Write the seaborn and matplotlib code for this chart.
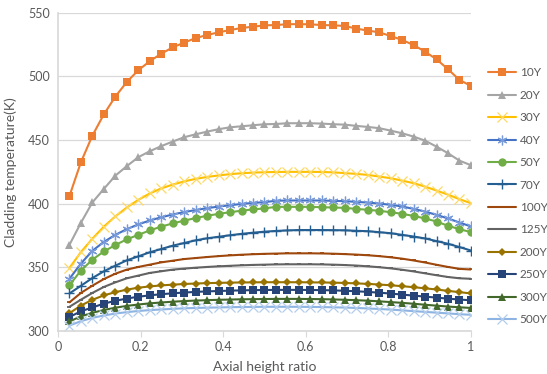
import numpy as np
import pandas as pd
import matplotlib
matplotlib.use("Agg")
import matplotlib.pyplot as plt
import seaborn as sns

# Axial height ratio positions (36 nodes)
axial = [i / 36 for i in range(1, 37)]

series_names = ["10Y", "20Y", "30Y", "40Y", "50Y", "70Y", "100Y", "125Y", "200Y", "250Y", "300Y", "500Y"]

t10 = [406, 432.6, 453.5, 470.2, 484.1, 495.6, 504.8, 511.9, 517.8, 522.8, 526.5, 530.1,
       532.5, 534.6, 536.4, 538, 539, 540.1, 540.3, 541, 541, 540.9, 540.3, 540.1,
       539.6, 537.5, 536, 534.6, 531.7, 528.6, 524.6, 519.4, 513.4, 505.6, 497.2, 492.5]
t20 = [367.7, 385, 401, 411.6, 422, 429.5, 436.5, 441.2, 445.2, 448.8, 452.2, 454.5,
       456.6, 458.5, 460, 460.8, 461.6, 462.4, 462.6, 463.2, 463.2, 463.2, 462.9, 462.4,
       462.1, 461.1, 460.3, 459.3, 457.4, 455.3, 452.7, 449.5, 444.8, 439.6, 433.8, 430.2]
t30 = [349.5, 362, 372.5, 382, 390, 397, 403, 408, 412, 415, 417.5, 419.5,
       421, 422.2, 423.2, 423.9, 424.4, 424.7, 424.9, 425, 425, 425, 424.9, 424.6,
       424, 423.4, 422.6, 421.3, 420, 418.1, 416.1, 413.4, 410.3, 407.1, 403.5, 400.4]
t40 = [341, 353, 363, 370, 375.5, 380, 383.7, 386.8, 389.3, 391.5, 393.4, 395,
       396.5, 397.7, 398.8, 399.8, 400.6, 401.2, 402.3, 402.5, 402.5, 402.5, 402.5, 402.2,
       402, 401.4, 400.9, 400.1, 399.1, 397.8, 395.9, 393.8, 391.2, 388.4, 385.2, 382.1]
t50 = [336, 347.5, 356, 362.5, 367.5, 372, 375.5, 379, 382, 384.5, 386.7, 388.7,
       390.5, 392, 393.3, 394.5, 395.5, 396.3, 397.5, 397.5, 397.5, 397.5, 397.2, 397,
       396.7, 395.9, 395.2, 394.4, 393.3, 392, 390.4, 388.4, 386, 382.6, 380, 377.6]
t70 = [329.5, 335.5, 341.6, 346.9, 351.3, 355.5, 358.6, 361.8, 364.4, 367, 369.1, 371.2,
       372.8, 374, 375.2, 376.3, 377.2, 378, 378.6, 379, 379.3, 379.3, 379.3, 379.2,
       379.1, 378.7, 378.4, 377.6, 376.8, 375.5, 374.2, 372.7, 370.6, 368.5, 365.9, 363.2]
t100 = [322.5, 329.9, 335.6, 340.8, 345, 348.2, 350.3, 352.1, 353.9, 355.2, 356.5, 357.3,
        358.1, 358.8, 359.4, 359.9, 360.3, 360.6, 360.8, 361, 361, 361, 360.9, 360.7,
        360.4, 360, 359.5, 358.8, 357.9, 356.8, 355.4, 353.8, 352, 350.3, 348.8, 348.3]
t125 = [319, 324.6, 329.9, 334.6, 338.2, 341.4, 343.5, 345.6, 346.9, 348.2, 349, 349.7,
        350.3, 350.8, 351.2, 351.6, 351.9, 352.1, 352.3, 352.4, 352.4, 352.4, 352.3, 352.1,
        351.8, 351.4, 350.8, 350.1, 349.2, 348.1, 346.8, 345.3, 343.8, 342.4, 341.4, 341]
t200 = [314, 320, 324.5, 328, 330.5, 332.5, 334, 335, 335.8, 336.4, 336.9, 337.3,
        337.6, 337.8, 338, 338.1, 338.2, 338.3, 338.3, 338.3, 338.3, 338.2, 338.1, 338,
        337.7, 337.4, 337, 336.5, 335.9, 335.2, 334.4, 333.5, 332.6, 331.5, 330.5, 329.5]
t250 = [311, 315.5, 318.5, 321.5, 323.7, 325.5, 326.9, 328, 328.9, 329.6, 330.2, 330.7,
        331.1, 331.4, 331.7, 331.9, 332.1, 332.2, 332.3, 332.3, 332.3, 332.2, 332.1, 331.9,
        331.6, 331.2, 330.7, 330.1, 329.4, 328.6, 327.8, 327, 326.2, 325.4, 324.7, 324.1]
t300 = [307.5, 311.5, 314.3, 316.5, 318.3, 319.7, 320.8, 321.7, 322.4, 323, 323.5, 323.9,
        324.2, 324.5, 324.7, 324.9, 325, 325.1, 325.2, 325.2, 325.2, 325.1, 325, 324.8,
        324.5, 324.2, 323.8, 323.3, 322.7, 322.1, 321.4, 320.6, 319.9, 319.2, 318.6, 318.1]
t500 = [304.3, 307.7, 310.3, 312.2, 313.7, 314.8, 315.7, 316.4, 316.9, 317.4, 317.8, 318.1,
        318.3, 318.5, 318.7, 318.8, 318.9, 319, 319, 319, 319, 318.9, 318.8, 318.6,
        318.4, 318.1, 317.7, 317.3, 316.8, 316.2, 315.6, 315, 314.4, 313.8, 313.2, 312.7]

values = [t10, t20, t30, t40, t50, t70, t100, t125, t200, t250, t300, t500]

colors = ["#ED7D31", "#A5A5A5", "#FFC000", "#4472C4", "#70AD47", "#255E91",
          "#9E480E", "#636363", "#997300", "#264478", "#43682B", "#8DB4E2"]
marker_edge = ["#ED7D31", "#A5A5A5", "#FFD966", "#7A9BDA", "#70AD47", "#255E91",
               "#9E480E", "#636363", "#997300", "#264478", "#43682B", "#B4CDEB"]
styles = [
    dict(marker="s", markersize=5.5, mew=0),
    dict(marker="^", markersize=6, mew=0),
    dict(marker="x", markersize=7, mew=0.9),
    dict(marker=(6, 2, 0), markersize=7, mew=0.9),
    dict(marker="o", markersize=6, mew=0),
    dict(marker="+", markersize=7, mew=1.0),
    dict(marker="_", markersize=3, mew=1.3),
    dict(marker="_", markersize=3, mew=1.3),
    dict(marker="D", markersize=4, mew=0),
    dict(marker="s", markersize=6, mew=0),
    dict(marker="^", markersize=5.5, mew=0),
    dict(marker="x", markersize=7, mew=0.9),
]

sns.set_theme(style="white")
plt.rcParams["font.family"] = ["Lato", "DejaVu Sans"]

fig = plt.figure(figsize=(5.47, 3.74), dpi=100)
ax = fig.add_axes([0.106, 0.115, 0.755, 0.851])

for name, vals, col, mec, st in zip(series_names, values, colors, marker_edge, styles):
    df = pd.DataFrame({"Axial height ratio": axial, "T": vals})
    sns.lineplot(data=df, x="Axial height ratio", y="T", ax=ax, color=col,
                 linewidth=1.5, label=name, markeredgecolor=mec,
                 markerfacecolor=col, **st)

ax.set_xlim(0, 1)
ax.set_ylim(300, 550)
ax.set_yticks([300, 350, 400, 450, 500, 550])
ax.set_xticks([0, 0.2, 0.4, 0.6, 0.8, 1.0])
ax.set_xticklabels(["0", "0.2", "0.4", "0.6", "0.8", "1"])
ax.yaxis.grid(True, color="#D9D9D9", linewidth=0.9)
ax.xaxis.grid(False)
for s in ["top", "right"]:
    ax.spines[s].set_visible(False)
ax.spines["left"].set_color("#D9D9D9")
ax.spines["bottom"].set_color("#D9D9D9")
ax.tick_params(axis="x", colors="#595959", labelsize=9, length=4, width=0.8,
               direction="out", bottom=True, color="#D9D9D9", pad=3)
ax.tick_params(axis="y", colors="#595959", labelsize=9, length=0, pad=6)
ax.set_xlabel("Axial height ratio", color="#595959", fontsize=10, labelpad=6)
ax.set_ylabel("Cladding temperature(K)", color="#595959", fontsize=10, labelpad=8)

leg = ax.legend(loc="upper left", bbox_to_anchor=(0.893, 0.82),
                bbox_transform=fig.transFigure, frameon=False, fontsize=8.5,
                labelspacing=0.97, handlelength=2.35, handletextpad=0.3,
                borderaxespad=0, borderpad=0)
for t in leg.get_texts():
    t.set_color("#595959")

fig.savefig("out.png", dpi=100)
